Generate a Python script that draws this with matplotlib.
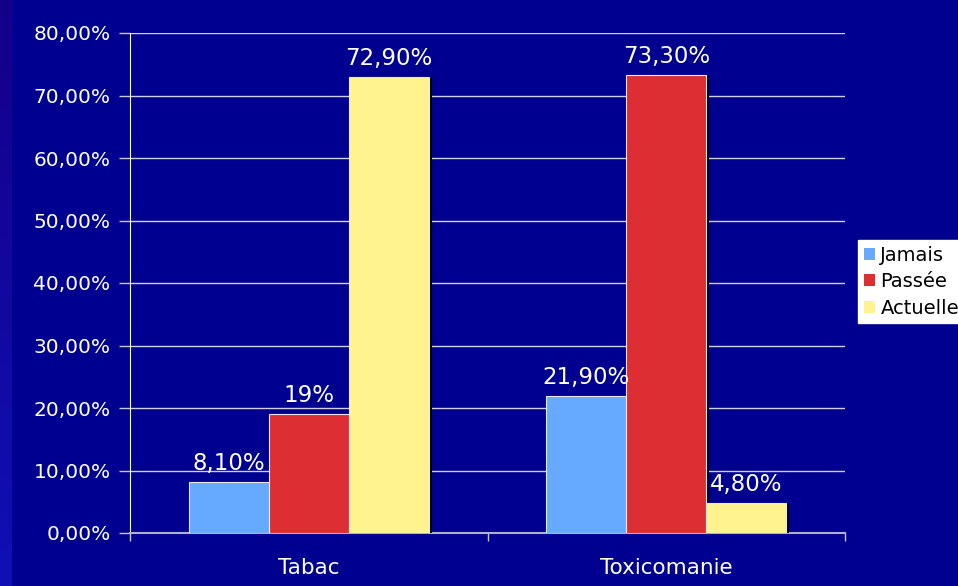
import numpy as np
import matplotlib.pyplot as plt
import matplotlib.patheffects as pe
from matplotlib.colors import LinearSegmentedColormap
from matplotlib.ticker import FuncFormatter

# Data
categories = ['Tabac', 'Toxicomanie']
series = ['Jamais', 'Passée', 'Actuelle']
jamais = [8.1, 21.9]
passee = [19.0, 73.3]
actuelle = [72.9, 4.8]
value_labels = [['8,10%', '21,90%'], ['19%', '73,30%'], ['72,90%', '4,80%']]

colors = ['#66aaff', '#dd2e33', '#fff38f']
bg = '#000090'

plt.rcParams['font.family'] = ['DejaVu Sans']

fig = plt.figure(figsize=(9.58, 5.86), dpi=100)
fig.patch.set_facecolor(bg)

# Darker strip along the left edge, lighter towards the bottom
strip = fig.add_axes([0, 0, 12 / 958, 1])
grad = np.linspace(0, 1, 256).reshape(-1, 1)
strip.imshow(grad, aspect='auto', cmap=LinearSegmentedColormap.from_list(
    'strip', ['#14008a', '#1010b4']), origin='upper', extent=[0, 1, 0, 1])
strip.axis('off')
top = fig.add_axes([0, 582 / 586, 1, 4 / 586])
top.set_facecolor('#10007a')
top.axis('off')

ax = fig.add_axes([130 / 958, 53 / 586, 715 / 958, 500 / 586])
ax.set_facecolor(bg)

x = np.arange(len(categories))
width = 0.224
offsets = [-width, 0, width]
shadow = [pe.SimplePatchShadow(offset=(2.2, -0.8), shadow_rgbFace='black', alpha=1.0), pe.Normal()]

for vals, off, col, name, labs in zip([jamais, passee, actuelle], offsets, colors, series, value_labels):
    bars = ax.bar(x + off, vals, width, color=col, edgecolor='#e8e8f0', linewidth=0.8,
                  label=name, zorder=3)
    for b in bars:
        b.set_path_effects(shadow)
    for b, t in zip(bars, labs):
        ax.annotate(t, (b.get_x() + b.get_width() / 2, b.get_height()), xytext=(0, 5),
                    textcoords='offset points', ha='center', va='bottom',
                    color='white', fontsize=16.5, zorder=4)

ax.set_xlim(-0.5, 1.5)
ax.set_ylim(0, 80)
ax.set_yticks(np.arange(0, 81, 10))
ax.yaxis.set_major_formatter(FuncFormatter(lambda v, p: f'{v:.2f}%'.replace('.', ',')))
ax.grid(axis='y', color='#d0d0e0', linewidth=1, zorder=0)
ax.set_axisbelow(True)

ax.set_xticks([-0.5, 0.5, 1.5])
ax.set_xticklabels([])
ax.set_xticks(x, minor=True)
ax.set_xticklabels(categories, minor=True)
ax.tick_params(axis='x', which='major', direction='out', length=6, color='#c8c8d8', width=1)
ax.tick_params(axis='x', which='minor', length=0, pad=18, labelcolor='white', labelsize=15.5)
ax.tick_params(axis='y', direction='out', length=8, color='#c8c8d8', width=1,
               labelcolor='white', labelsize=14.5, pad=6)

for s in ['top', 'right']:
    ax.spines[s].set_visible(False)
ax.spines['left'].set_color('white')
ax.spines['bottom'].set_color('#b0b0c8')
ax.spines['bottom'].set_linewidth(1.5)

leg = fig.legend(loc='upper left', bbox_to_anchor=(858 / 958, 1 - 240 / 586), frameon=True,
                 fontsize=14, handlelength=0.55, handleheight=0.55, handletextpad=0.3,
                 borderpad=0.3, labelspacing=0.38, fancybox=False, borderaxespad=0,
                 framealpha=1)
leg.get_frame().set_facecolor('white')
leg.get_frame().set_edgecolor('white')
for h in leg.legend_handles:
    h.set_path_effects([])
    h.set_edgecolor('none')

fig.savefig('out.png', dpi=100, facecolor=fig.get_facecolor())
